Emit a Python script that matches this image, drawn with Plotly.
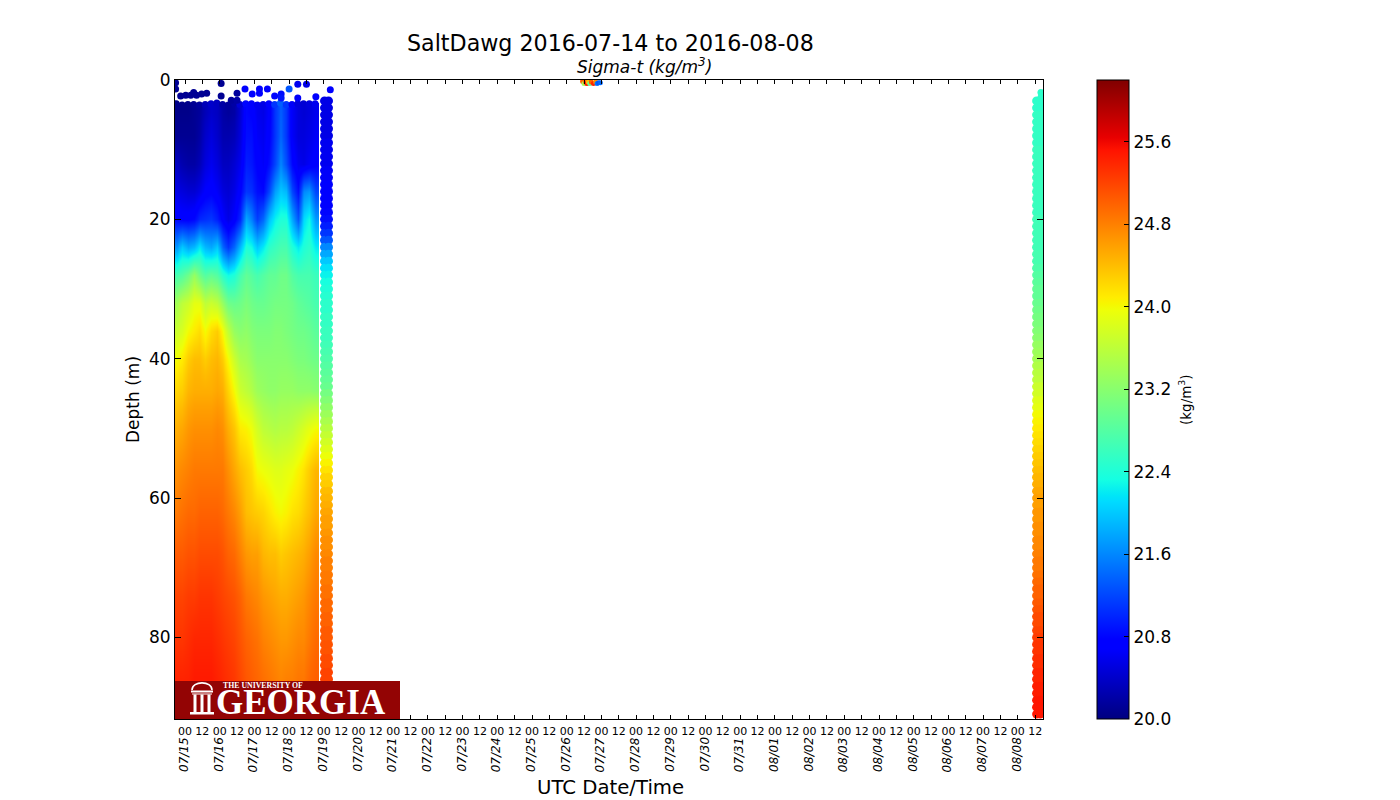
import plotly.graph_objects as go

W, H = 1400, 800
FONT = "DejaVu Sans"

# ---------- data ----------
profile_bounds = ["2016-07-14 17:05", "2016-07-14 20:00", "2016-07-15 00:00", "2016-07-15 04:00", "2016-07-15 08:00",
                  "2016-07-15 12:00", "2016-07-15 16:00", "2016-07-15 20:00", "2016-07-16 00:00", "2016-07-16 04:00",
                  "2016-07-16 08:00", "2016-07-16 12:00", "2016-07-16 16:00", "2016-07-16 20:00", "2016-07-17 00:00",
                  "2016-07-17 04:00", "2016-07-17 08:00", "2016-07-17 12:00", "2016-07-17 16:00", "2016-07-17 20:00",
                  "2016-07-18 00:00", "2016-07-18 04:00", "2016-07-18 08:00", "2016-07-18 12:00", "2016-07-18 16:00",
                  "2016-07-18 20:30"]
depth_bounds = [3.3, 6, 10, 14, 18, 22, 26, 30, 34, 38, 42, 47, 53, 59, 65, 71, 77, 84, 92]

d04 = [20.05,20.05,20.05,20.1,20.15,20.3,20.4,20.35,20.2,20.15,20.2,20.45,20.8,20.75,20.6,20.55,20.7,21.1,21.35,21.1,20.65,20.5,20.45,20.5,20.6]
d08 = [20.1,20.1,20.1,20.1,20.2,20.4,20.5,20.4,20.25,20.25,20.3,20.5,20.85,20.85,20.65,20.6,20.75,21.1,21.4,21.1,20.65,20.5,20.5,20.55,20.65]
d12 = [20.35,20.25,20.2,20.2,20.3,20.5,20.6,20.5,20.35,20.35,20.45,20.6,20.95,20.9,20.75,20.65,20.85,21.2,21.6,21.25,20.8,20.6,20.55,20.65,20.75]
d16 = [20.55,20.5,20.45,20.45,20.55,20.7,20.75,20.65,20.5,20.45,20.55,20.75,21.1,21.05,20.85,20.8,21.2,21.75,22.0,21.9,21.2,20.85,21.6,21.7,21.2]
d20 = [20.8,20.75,20.75,20.8,21.0,21.05,21.1,20.95,20.7,20.55,20.7,21.0,21.8,21.55,21.15,21.4,21.95,22.25,22.4,22.4,21.8,21.3,22.1,22.3,21.7]
d24 = [21.7,22.0,21.8,21.9,22.2,21.9,21.8,22.0,21.4,21.1,21.4,21.9,22.4,22.3,22.0,22.2,22.5,22.6,22.7,22.7,22.4,22.2,22.4,22.5,22.2]
d28 = [22.7,22.8,23.0,23.3,23.0,22.8,22.9,22.8,22.5,22.3,22.4,22.7,22.9,22.8,22.7,22.8,22.9,22.9,23.0,23.0,22.8,22.7,22.7,22.7,22.6]
d32 = [23.4,23.6,23.7,23.9,23.9,23.6,23.7,23.6,23.3,23.0,22.95,23.0,23.1,23.0,22.95,22.95,23.0,23.05,23.05,23.05,23.0,22.9,22.85,22.8,22.7]
d36 = [23.7,23.8,24.0,24.1,24.2,24.0,24.2,24.3,24.0,23.6,23.3,23.2,23.25,23.15,23.1,23.1,23.1,23.15,23.15,23.1,23.05,23.0,23.0,22.95,22.85]
d40 = [24.0,24.1,24.3,24.4,24.4,24.3,24.4,24.45,24.3,24.0,23.7,23.45,23.4,23.3,23.2,23.2,23.2,23.2,23.2,23.2,23.15,23.1,23.1,23.05,23.0]
d44 = [24.25,24.3,24.45,24.5,24.5,24.5,24.5,24.55,24.5,24.25,24.0,23.7,23.6,23.5,23.35,23.3,23.25,23.25,23.3,23.3,23.3,23.25,23.25,23.25,23.2]
d50 = [24.5,24.55,24.65,24.7,24.7,24.7,24.7,24.75,24.7,24.5,24.35,24.1,24.05,23.95,23.75,23.6,23.55,23.5,23.55,23.55,23.6,23.7,23.8,23.9,24.0]
d56 = [24.7,24.75,24.8,24.85,24.85,24.85,24.85,24.85,24.85,24.7,24.55,24.4,24.3,24.2,24.0,23.95,23.9,23.85,23.85,23.9,23.95,24.05,24.15,24.3,24.45]
d62 = [24.85,24.9,24.95,24.95,25.0,25.0,25.0,25.0,24.95,24.85,24.75,24.6,24.4,24.35,24.3,24.25,24.15,24.05,24.0,24.05,24.15,24.2,24.3,24.4,24.55]
d68 = [25.05,25.05,25.1,25.1,25.15,25.15,25.15,25.15,25.1,25.0,24.95,24.8,24.65,24.6,24.6,24.45,24.4,24.4,24.3,24.35,24.4,24.45,24.5,24.6,24.75]
d74 = [25.2,25.2,25.25,25.25,25.3,25.3,25.3,25.25,25.2,25.15,25.1,25.0,24.85,24.8,24.75,24.65,24.6,24.55,24.5,24.5,24.55,24.6,24.65,24.75,24.85]
d80 = [25.3,25.3,25.35,25.4,25.4,25.4,25.4,25.35,25.3,25.25,25.2,25.1,25.0,24.95,24.9,24.8,24.75,24.7,24.65,24.65,24.7,24.75,24.75,24.85,24.95]
d88 = [25.45,25.45,25.45,25.5,25.5,25.5,25.5,25.45,25.4,25.35,25.3,25.2,25.1,25.05,25.0,24.95,24.9,24.85,24.8,24.85,24.85,24.9,24.9,25.0,25.05]
sigma_grid = [d04, d08, d12, d16, d20, d24, d28, d32, d36, d40, d44, d50, d56, d62, d68, d74, d80, d88]

# upper edge of the dense profile block
edge_times = ["2016-07-14 18:00", "2016-07-14 22:00", "2016-07-15 02:00", "2016-07-15 06:00", "2016-07-15 10:00",
              "2016-07-15 14:00", "2016-07-15 18:00", "2016-07-15 22:00", "2016-07-16 02:00", "2016-07-16 06:00",
              "2016-07-16 10:00", "2016-07-16 14:00", "2016-07-16 18:00", "2016-07-16 22:00", "2016-07-17 02:00",
              "2016-07-17 06:00", "2016-07-17 10:00", "2016-07-17 14:00", "2016-07-17 18:00", "2016-07-17 22:00",
              "2016-07-18 02:00", "2016-07-18 06:00", "2016-07-18 10:00", "2016-07-18 14:00", "2016-07-18 18:00"]
edge_depths = [3.4, 3.6, 3.5, 3.5, 3.6, 3.5, 3.4, 3.3, 3.5, 3.6, 3.3, 3.5, 3.4, 3.4, 3.6, 3.5, 3.4, 3.5, 3.3, 3.5, 3.5, 3.4, 3.4, 3.4, 3.4]

# near-surface scatter
near_times = ["2016-07-14 17:30", "2016-07-14 17:30", "2016-07-14 21:00", "2016-07-15 00:30", "2016-07-15 04:00", "2016-07-15 06:00",
              "2016-07-15 08:00", "2016-07-15 11:30", "2016-07-15 15:00", "2016-07-16 01:00", "2016-07-16 01:00", "2016-07-16 08:00",
              "2016-07-16 12:00", "2016-07-16 12:00", "2016-07-16 17:30", "2016-07-16 22:30", "2016-07-17 03:30", "2016-07-17 03:30",
              "2016-07-17 09:00", "2016-07-17 14:00", "2016-07-17 18:30", "2016-07-17 18:30", "2016-07-18 00:00", "2016-07-18 06:00",
              "2016-07-18 06:00", "2016-07-18 12:00", "2016-07-18 18:30", "2016-07-19 04:30", "2016-08-08 16:00", "2016-08-08 16:00"]
near_depths = [0.4, 1.3, 2.3, 2.2, 2.2, 1.8, 2.2, 2.0, 1.9, 0.5, 2.3, 2.9, 1.9, 2.9, 1.3, 2.0, 1.3, 1.9,
               1.3, 2.3, 2.0, 2.6, 1.3, 0.6, 2.6, 0.6, 2.4, 1.4, 1.8, 2.5]
near_sigma = [20.1, 20.1, 20.1, 20.1, 20.1, 20.1, 20.1, 20.1, 20.1, 20.1, 20.1, 20.15, 20.15, 20.2, 20.7, 20.75, 20.75, 20.75,
              20.75, 20.8, 20.85, 20.9, 21.3, 20.6, 20.65, 20.55, 20.7, 20.7, 22.5, 22.5]

# short burst at the surface on 07/26
burst_times = ["2016-07-26 11:00", "2016-07-26 12:00", "2016-07-26 13:00", "2016-07-26 14:00", "2016-07-26 15:00", "2016-07-26 16:00",
               "2016-07-26 17:00", "2016-07-26 18:30", "2016-07-26 20:00", "2016-07-26 21:00", "2016-07-26 22:00", "2016-07-26 23:15"]
burst_depths = [0.2, 0.5, 0.3, 0.5, 0.3, 0.5, 0.3, 0.5, 0.3, 0.5, 0.4, 0.4]
burst_sigma = [25.0, 23.4, 24.9, 25.5, 24.4, 22.9, 25.0, 25.4, 24.7, 21.5, 21.3, 21.4]

# profile column on 07/19, 3-87 m
strip_a_times = ["2016-07-19 00:30", "2016-07-19 03:15"]
strip_a_depths = list(range(3, 88))
strip_a_sigma = [20.55,20.55,20.55,20.55,20.55,20.55,20.6,20.6,20.6,20.6,20.65,20.65,20.7,20.7,20.7,20.75,20.8,20.85,
                 20.95,21.1,21.3,21.6,21.8,22.0,22.15,22.25,22.35,22.4,
                 22.45,22.5,22.5,22.55,22.55,22.6,22.6,22.65,22.7,22.75,
                 22.8,22.85,22.9,22.95,23.05,23.15,23.25,23.35,23.45,23.55,
                 23.65,23.75,23.85,23.95,24.05,24.15,24.25,24.3,24.4,24.45,
                 24.5,24.55,24.6,24.6,24.65,24.7,24.7,24.75,24.8,24.8,
                 24.85,24.85,24.9,24.9,24.95,24.95,25.0,25.0,25.05,25.05,
                 25.1,25.1,25.15,25.15,25.2,25.2,25.2]

# profile column on 08/08, 3-91 m
strip_b_times = ["2016-08-08 13:00", "2016-08-08 15:40"]
strip_b_depths = list(range(3, 92))
strip_b_sigma = [22.5,22.5,22.55,22.55,22.55,22.55,22.55,22.6,
                 22.6,22.6,22.6,22.6,22.6,22.6,22.6,22.6,22.6,22.65,
                 22.65,22.65,22.65,22.65,22.7,22.7,22.75,22.8,22.85,22.9,
                 22.9,22.95,23.0,23.05,23.1,23.15,23.2,23.3,23.35,23.4,
                 23.5,23.55,23.6,23.7,23.75,23.85,23.9,24.0,24.05,24.1,
                 24.15,24.2,24.25,24.3,24.35,24.4,24.45,24.5,24.55,24.6,
                 24.6,24.65,24.65,24.7,24.7,24.75,24.75,24.8,24.85,24.85,
                 24.9,24.95,25.0,25.0,25.05,25.1,25.15,25.15,25.2,25.25,
                 25.3,25.3,25.35,25.35,25.4,25.4,25.45,25.45,25.5,25.5,25.5]

date_labels = ["07/15", "07/16", "07/17", "07/18", "07/19", "07/20", "07/21", "07/22", "07/23", "07/24", "07/25", "07/26",
               "07/27", "07/28", "07/29", "07/30", "07/31", "08/01", "08/02", "08/03", "08/04", "08/05", "08/06", "08/07", "08/08"]
depth_ticks = [0, 20, 40, 60, 80]
cbar_ticks = [20.0, 20.8, 21.6, 22.4, 23.2, 24.0, 24.8, 25.6]

SIGMA_MIN, SIGMA_MAX = 20.0, 26.2

jet = [[0, "rgb(0,0,128)"], [.11, "rgb(0,0,255)"], [.125, "rgb(0,0,255)"], [.34, "rgb(0,219,255)"], [.35, "rgb(0,230,247)"],
       [.375, "rgb(21,255,226)"], [.64, "rgb(238,255,8)"], [.65, "rgb(247,246,0)"], [.66, "rgb(255,236,0)"],
       [.89, "rgb(255,19,0)"], [.91, "rgb(232,0,0)"], [1, "rgb(128,0,0)"]]


def px(x):
    return x / W


def py(y):
    return 1 - y / H


# ---------- figure ----------
fig = go.Figure()
fig.add_trace(go.Heatmap(x=profile_bounds, y=depth_bounds, z=sigma_grid, coloraxis="coloraxis", zsmooth="best",
                         hoverinfo="skip"))


def dots(x, y, c, size=7):
    fig.add_trace(go.Scatter(x=x, y=y, mode="markers", showlegend=False,
                             marker=dict(color=c, coloraxis="coloraxis", size=size, line=dict(width=0))))


dots(edge_times, edge_depths, d04)
dots(near_times, near_depths, near_sigma)
dots(burst_times, burst_depths, burst_sigma, size=5)
for t in strip_a_times:
    dots([t] * len(strip_a_depths), strip_a_depths, strip_a_sigma, size=9)
for t in strip_b_times:
    dots([t] * len(strip_b_depths), strip_b_depths, strip_b_sigma, size=9)

tick_vals, tick_text = [], []
for lab in date_labels:
    day = "2016-" + lab.replace("/", "-")
    tick_vals += [day + " 00:00", day + " 12:00"]
    tick_text += ["00", "12"]

annotations = []


def label(text, x, y, size, angle=0, **kw):
    annotations.append(dict(text=text, x=px(x), y=py(y), xref="paper", yref="paper", showarrow=False,
                            xanchor="center", yanchor="middle", textangle=angle,
                            font=dict(family=kw.pop("family", FONT), size=size, color=kw.pop("color", "black")), **kw))


label("SaltDawg 2016-07-14 to 2016-08-08", 610, 43, 22.2)
label("<i>Sigma-t (kg/m<sup>3</sup>)</i>", 644, 66, 17)
label("UTC Date/Time", 610, 787, 19.7)
label("Depth (m)", 133, 400, 17, angle=-90)
label("(kg/m<sup>3</sup>)", 1185, 400, 13.5, angle=-90)

for lab in date_labels:
    annotations.append(dict(text="<i>" + lab + "</i>", x="2016-" + lab.replace("/", "-"), y=py(754.5), xref="x", yref="paper",
                            xshift=-1.5, showarrow=False, xanchor="center", yanchor="middle", textangle=-90,
                            font=dict(family=FONT, size=12, color="black")))

# logo
LOGO_RED = "#930404"
label("<b>GEORGIA</b>", 301, 702.5, 35, family="Liberation Serif", color="white")
label("<b>THE UNIVERSITY OF</b>", 262.5, 685.5, 7.8, family="Liberation Serif", color="white")


def rect(x0, y0, x1, y1, color="white"):
    return dict(type="rect", xref="paper", yref="paper", x0=px(x0), x1=px(x1), y0=py(y0), y1=py(y1),
                fillcolor=color, line=dict(width=0), layer="above")


shapes = [rect(175, 681, 400, 719, LOGO_RED)]
shapes += [rect(191, 690.5, 213, 692.5), rect(190, 712, 214, 714.5), rect(192, 693.5, 212, 694.5),
           rect(193.5, 694.5, 196.5, 712), rect(200.5, 694.5, 203.5, 712), rect(207.5, 694.5, 210.5, 712)]
shapes.append(dict(type="path", xref="paper", yref="paper", layer="above", line=dict(color="white", width=1.6),
                   path=f"M {px(192)} {py(690)} C {px(192)} {py(680.5)} {px(212)} {py(680.5)} {px(212)} {py(690)}"))

axis_common = dict(showline=True, linecolor="black", linewidth=1, mirror="ticks", ticks="inside", tickcolor="black",
                   showgrid=False, zeroline=False)

fig.update_layout(
    width=W, height=H, margin=dict(l=0, r=0, t=0, b=0, autoexpand=False),
    paper_bgcolor="white", plot_bgcolor="white", showlegend=False,
    font=dict(family=FONT, color="black"),
    xaxis=dict(domain=[px(175), px(1043)], type="date", range=["2016-07-14 17:05", "2016-08-08 17:25"],
               tickmode="array", tickvals=tick_vals, ticktext=tick_text, tickangle=0, ticklen=4, ticklabelstandoff=2,
               tickfont=dict(size=11, family=FONT), **axis_common),
    yaxis=dict(domain=[py(719), py(80)], range=[91.7, 0], tickmode="array", tickvals=depth_ticks, ticklen=6,
               tickfont=dict(size=17, family=FONT), **axis_common),
    coloraxis=dict(cmin=SIGMA_MIN, cmax=SIGMA_MAX, colorscale=jet,
                   colorbar=dict(x=px(1097), xanchor="left", y=py(719), yanchor="bottom", len=639 / H, lenmode="fraction",
                                 thickness=32, thicknessmode="pixels", outlinecolor="black", outlinewidth=1,
                                 ticks="inside", ticklen=5, tickcolor="black", tickmode="array", tickvals=cbar_ticks,
                                 ticktext=[f"{v:.1f}" for v in cbar_ticks], tickfont=dict(size=17, family=FONT),
                                 xpad=0, ypad=0)),
    annotations=annotations, shapes=shapes,
)

fig.write_html("out.html", config=dict(displayModeBar=False),
               post_script="document.body.style.margin='0';window.dispatchEvent(new Event('resize'));")
